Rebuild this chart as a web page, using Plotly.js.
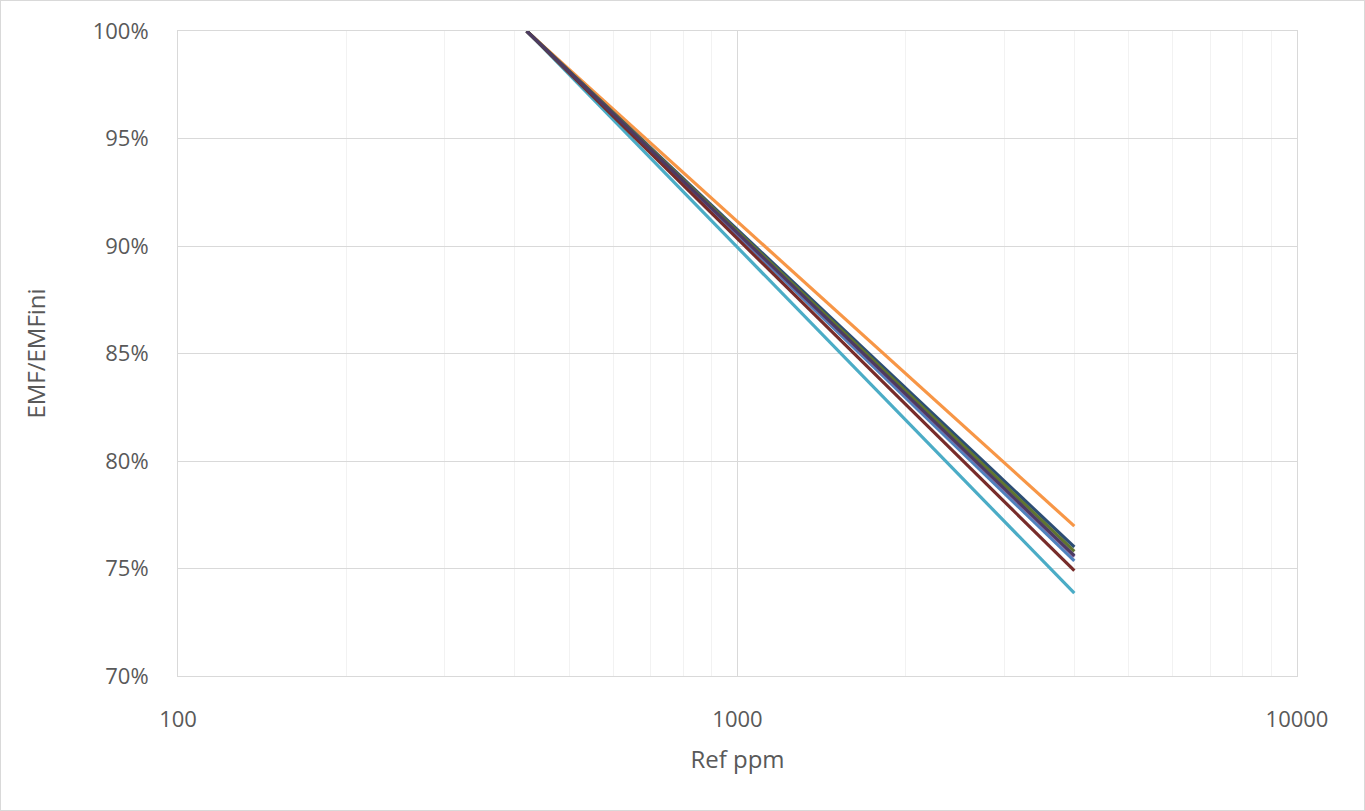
<!DOCTYPE html>
<html>
<head>
<meta charset="utf-8">
<script src="https://cdn.plot.ly/plotly-3.0.1.min.js"></script>
<style>
html,body{margin:0;padding:0;background:#fff;}
#chart{width:1365px;height:811px;box-sizing:border-box;border:1px solid #D9D9D9;}
</style>
</head>
<body>
<div id="chart"></div>
<script>
// Reference concentration (ppm) at start and end of each line
const refPpm = [420, 4000];
// EMF/EMFini end values per series (start is 100%)
const seriesNames = ["Series 1","Series 2","Series 3","Series 4","Series 5","Series 6","Series 7","Series 8"];
const seriesColors = ["#4F81BD","#8064A2","#4BACC6","#F79646","#2C4D75","#772C2A","#5F7530","#4D3B62"];
const startValues = [1.00, 1.00, 1.00, 1.00, 1.00, 1.00, 1.00, 1.00];
const endValues   = [0.7535, 0.7555, 0.7385, 0.7697, 0.7600, 0.7490, 0.7580, 0.7560];

const traces = seriesNames.map((n, i) => ({
  x: refPpm,
  y: [startValues[i], endValues[i]],
  type: 'scatter',
  mode: 'lines',
  name: n,
  line: {color: seriesColors[i], width: 3.2}
}));

const fam = '"Open Sans", "Noto Sans", sans-serif';

const layout = {
  width: 1363, height: 809,
  margin: {l: 177, r: 67, t: 30, b: 134},
  paper_bgcolor: '#fff', plot_bgcolor: '#fff',
  showlegend: false,
  font: {family: fam, color: '#595959', size: 22},
  xaxis: {
    type: 'log',
    range: [2, 4],
    tickvals: [100, 1000, 10000],
    ticktext: ['100', '1000', '10000'],
    showgrid: true, gridcolor: '#D9D9D9', gridwidth: 1,
    minor: {showgrid: true, gridcolor: '#F2F2F2', gridwidth: 1, dtick: 'D1', ticks: ''},
    zeroline: false,
    showline: true, linecolor: '#D9D9D9', mirror: true,
    ticks: '', ticklen: 0,
    ticklabelstandoff: 24,
    tickfont: {family: fam, size: 22, color: '#595959'},
    title: {text: 'Ref ppm', font: {family: fam, size: 24, color: '#595959'}, standoff: 18}
  },
  yaxis: {
    range: [0.70, 1.00],
    dtick: 0.05,
    tickformat: '.0%',
    showgrid: true, gridcolor: '#D9D9D9', gridwidth: 1,
    zeroline: false,
    showline: true, linecolor: '#D9D9D9', mirror: true,
    ticks: '', ticklen: 0,
    ticklabelstandoff: 24,
    tickfont: {family: fam, size: 22, color: '#595959'},
    title: {text: 'EMF/EMFini', font: {family: fam, size: 24, color: '#595959'}, standoff: 40}
  }
};

Plotly.newPlot('chart', traces, layout, {displayModeBar: false, staticPlot: true});
</script>
</body>
</html>
